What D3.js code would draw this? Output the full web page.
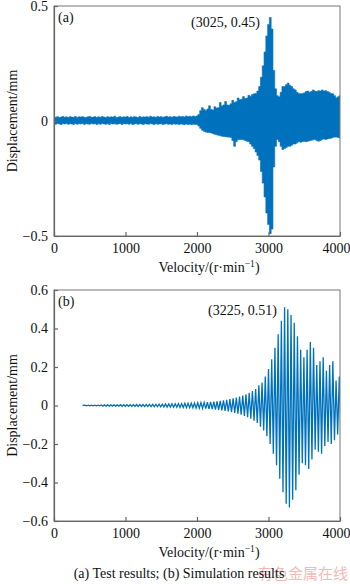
<!DOCTYPE html>
<html>
<head>
<meta charset="utf-8">
<script src="https://cdn.jsdelivr.net/npm/d3@7"></script>
<style>
  html, body { margin: 0; padding: 0; background: #fff; }
  svg { display: block; }
  text { font-family: "Liberation Serif", "Times New Roman", serif; fill: #111; }
</style>
</head>
<body>
<svg id="chart" width="350" height="584"></svg>
<script>
// ---- (a) Test results: measured displacement envelope, sampled every 25 r/min ----
const testStep = 25;
const testUpper = [
  0.018,0.016,0.019,0.015,0.017,0.02,0.016,0.018,0.015,0.019,
  0.017,0.016,0.02,0.015,0.018,0.017,0.019,0.016,0.015,0.018,
  0.02,0.016,0.017,0.019,0.015,0.018,0.016,0.02,0.017,0.015,
  0.019,0.016,0.018,0.017,0.021,0.015,0.017,0.019,0.016,0.018,
  0.017,0.02,0.015,0.018,0.016,0.019,0.017,0.015,0.02,0.016,
  0.018,0.017,0.019,0.016,0.021,0.017,0.018,0.016,0.02,0.017,
  0.019,0.016,0.018,0.021,0.017,0.019,0.016,0.02,0.018,0.017,
  0.021,0.018,0.02,0.017,0.022,0.019,0.021,0.018,0.022,0.02,
  0.022,0.028,0.045,0.058,0.05,0.046,0.052,0.066,0.05,0.048,
  0.062,0.056,0.058,0.08,0.065,0.07,0.085,0.07,0.068,0.075,
  0.09,0.08,0.084,0.1,0.092,0.095,0.106,0.098,0.1,0.112,
  0.108,0.115,0.118,0.12,0.13,0.15,0.19,0.24,0.3,0.37,
  0.42,0.45,0.4,0.22,0.14,0.11,0.105,0.125,0.15,0.15,
  0.158,0.165,0.155,0.15,0.14,0.135,0.125,0.12,0.118,0.12,
  0.122,0.128,0.13,0.125,0.128,0.135,0.13,0.128,0.132,0.13,
  0.135,0.13,0.132,0.128,0.125,0.12,0.118,0.11,0.1,0.105,
  0.11
];
const testLower = [
  -0.012,-0.014,-0.011,-0.013,-0.015,-0.012,-0.013,-0.011,-0.014,-0.012,
  -0.013,-0.015,-0.011,-0.014,-0.012,-0.013,-0.011,-0.015,-0.012,-0.013,
  -0.014,-0.011,-0.013,-0.012,-0.015,-0.012,-0.014,-0.011,-0.013,-0.014,
  -0.012,-0.015,-0.011,-0.013,-0.012,-0.014,-0.013,-0.011,-0.015,-0.012,
  -0.013,-0.012,-0.014,-0.011,-0.015,-0.013,-0.012,-0.014,-0.012,-0.013,
  -0.015,-0.012,-0.013,-0.014,-0.011,-0.013,-0.015,-0.012,-0.014,-0.013,
  -0.012,-0.015,-0.013,-0.012,-0.014,-0.013,-0.015,-0.012,-0.014,-0.013,
  -0.015,-0.013,-0.014,-0.016,-0.013,-0.015,-0.014,-0.016,-0.014,-0.015,
  -0.015,-0.022,-0.032,-0.04,-0.045,-0.048,-0.05,-0.05,-0.052,-0.055,
  -0.058,-0.06,-0.062,-0.064,-0.066,-0.067,-0.068,-0.07,-0.07,-0.072,
  -0.085,-0.11,-0.09,-0.082,-0.08,-0.08,-0.082,-0.085,-0.088,-0.09,
  -0.1,-0.11,-0.12,-0.135,-0.15,-0.17,-0.22,-0.27,-0.33,-0.4,
  -0.45,-0.49,-0.47,-0.2,-0.11,-0.08,-0.09,-0.11,-0.124,-0.12,
  -0.115,-0.11,-0.11,-0.105,-0.1,-0.1,-0.095,-0.09,-0.092,-0.09,
  -0.088,-0.09,-0.088,-0.086,-0.084,-0.082,-0.08,-0.085,-0.088,-0.085,
  -0.08,-0.078,-0.08,-0.078,-0.076,-0.075,-0.072,-0.07,-0.07,-0.072,
  -0.074
];

// ---- (b) Simulation results: peak / trough of each oscillation cycle ----
const simStart = 400;      // r/min where the simulated run begins
const simFirstPeak = 435;  // r/min of the first cycle peak
const simPeriod = 45;      // r/min per oscillation cycle
const simPeaks = [
  0.002,0.002,0.002,0.002,0.002,0.003,0.003,0.003,0.003,0.003,
  0.003,0.004,0.004,0.004,0.004,0.004,0.005,0.005,0.005,0.005,
  0.006,0.006,0.006,0.007,0.007,0.008,0.008,0.009,0.009,0.01,
  0.01,0.011,0.011,0.012,0.013,0.014,0.015,0.016,0.017,0.019,
  0.02,0.022,0.024,0.027,0.03,0.033,0.037,0.041,0.046,0.052,
  0.058,0.066,0.075,0.086,0.105,0.12,0.15,0.19,0.24,0.3,
  0.37,0.44,0.51,0.5,0.47,0.43,0.36,0.29,0.25,0.29,
  0.33,0.3,0.21,0.23,0.25,0.18,0.21,0.23,0.13,0.15
];
const simTroughs = [
  -0.002,-0.002,-0.002,-0.002,-0.002,-0.003,-0.003,-0.003,-0.003,-0.003,
  -0.003,-0.004,-0.004,-0.004,-0.004,-0.004,-0.005,-0.005,-0.005,-0.005,
  -0.006,-0.006,-0.006,-0.007,-0.007,-0.008,-0.008,-0.009,-0.009,-0.01,
  -0.01,-0.011,-0.011,-0.012,-0.013,-0.014,-0.015,-0.016,-0.018,-0.019,
  -0.021,-0.023,-0.025,-0.028,-0.031,-0.034,-0.038,-0.043,-0.048,-0.054,
  -0.061,-0.069,-0.079,-0.091,-0.11,-0.13,-0.16,-0.2,-0.25,-0.31,
  -0.38,-0.45,-0.51,-0.53,-0.49,-0.44,-0.36,-0.3,-0.31,-0.33,
  -0.28,-0.23,-0.24,-0.25,-0.21,-0.19,-0.2,-0.18,-0.15,-0.16
];

// ---- axis ticks and texts ----
const velocityTicks = [0, 1000, 2000, 3000, 4000];
const testTicks = [-0.5, 0, 0.5];
const simTicks = [-0.6, -0.4, -0.2, 0, 0.2, 0.4, 0.6];
const testPeak = { rpm: 3025, value: 0.45 };
const simPeak = { rpm: 3225, value: 0.51 };
const yTitle = "Displacement/mm";
const caption = "(a) Test results; (b) Simulation results";

const blue = "#0072bd";
const axisGray = "#666";
const svg = d3.select("#chart");

const fmtY = v => v === 0 ? "0" : d3.format(".1f")(v);
const fmtX = d3.format("d");

function panel(cfg) {
  const x = d3.scaleLinear().domain([0, 4000]).range([cfg.left, cfg.right]);
  const y = d3.scaleLinear().domain(cfg.yDomain).range([cfg.bottom, cfg.top]);
  const g = svg.append("g");

  const clipId = "clip-" + cfg.name;
  svg.append("clipPath").attr("id", clipId)
    .append("rect")
    .attr("x", cfg.left).attr("y", cfg.top)
    .attr("width", cfg.right - cfg.left).attr("height", cfg.bottom - cfg.top);

  const plot = g.append("g").attr("clip-path", `url(#${clipId})`);
  cfg.draw(plot, x, y);

  // frame
  g.append("rect")
    .attr("x", cfg.left).attr("y", cfg.top)
    .attr("width", cfg.right - cfg.left).attr("height", cfg.bottom - cfg.top)
    .attr("fill", "none").attr("stroke", "#777").attr("stroke-width", 1);

  const ax = g.append("g").attr("transform", `translate(0,${cfg.bottom})`)
    .call(d3.axisBottom(x).tickValues(velocityTicks).tickFormat(fmtX)
      .tickSizeInner(-4).tickSizeOuter(0).tickPadding(7));
  const ay = g.append("g").attr("transform", `translate(${cfg.left},0)`)
    .call(d3.axisLeft(y).tickValues(cfg.yTicks).tickFormat(fmtY)
      .tickSizeInner(-4).tickSizeOuter(0).tickPadding(6));
  [ax, ay].forEach(a => {
    a.attr("font-family", null);
    a.select(".domain").attr("stroke", axisGray).attr("stroke-width", 1.2);
    a.selectAll(".tick line").attr("stroke", axisGray).attr("stroke-width", 1.2);
    a.selectAll(".tick text").attr("font-size", 14).attr("fill", "#111");
  });
  // keep the last velocity label inside the page edge
  ax.selectAll(".tick text").filter(d => d === 4000)
    .attr("text-anchor", "end").attr("x", 10);

  // x title with superscript
  const xt = g.append("text")
    .attr("x", 209).attr("y", cfg.bottom + 36)
    .attr("text-anchor", "middle").attr("font-size", 14);
  xt.append("tspan").text("Velocity/(r·min");
  xt.append("tspan").attr("dy", -5).attr("font-size", 9.5).text("−1");
  xt.append("tspan").attr("dy", 5).text(")");

  // y title
  g.append("text")
    .attr("transform", `translate(17,${(cfg.top + cfg.bottom) / 2}) rotate(-90)`)
    .attr("text-anchor", "middle").attr("font-size", 14)
    .text(yTitle);

  // panel label
  g.append("text").attr("x", cfg.left + 4).attr("y", cfg.top + 16)
    .attr("font-size", 14).text(cfg.label);

  // peak annotation
  g.append("text").attr("x", cfg.noteX).attr("y", cfg.noteY)
    .attr("font-size", 14).text(`(${cfg.peak.rpm}, ${cfg.peak.value})`);
}

// (a) measured band
panel({
  name: "a", label: "(a)",
  left: 54, right: 340, top: 6, bottom: 236,
  yDomain: [-0.5, 0.5], yTicks: testTicks,
  peak: testPeak, noteX: 191, noteY: 27,
  draw: (plot, x, y) => {
    const rows = testUpper.map((u, i) => ({ rpm: i * testStep, hi: u, lo: testLower[i] }));
    plot.append("path")
      .datum(rows)
      .attr("fill", blue)
      .attr("stroke", blue).attr("stroke-width", 0.6)
      .attr("d", d3.area()
        .curve(d3.curveStep)
        .x(d => x(d.rpm))
        .y0(d => y(d.lo))
        .y1(d => y(d.hi)));
  }
});

// (b) simulated oscillation
panel({
  name: "b", label: "(b)",
  left: 54, right: 340, top: 290, bottom: 521,
  yDomain: [-0.6, 0.6], yTicks: simTicks,
  peak: simPeak, noteX: 208, noteY: 315,
  draw: (plot, x, y) => {
    const pts = [{ rpm: simStart, v: 0 }];
    simPeaks.forEach((p, k) => {
      const r = simFirstPeak + k * simPeriod;
      pts.push({ rpm: r, v: p });
      pts.push({ rpm: r + simPeriod / 2, v: simTroughs[k] });
    });
    plot.append("path")
      .datum(pts)
      .attr("fill", "none")
      .attr("stroke", blue).attr("stroke-width", 1.3)
      .attr("stroke-linejoin", "miter")
      .attr("d", d3.line().x(d => x(d.rpm)).y(d => y(d.v)));
  }
});

// watermark then caption
svg.append("text")
  .attr("x", 258).attr("y", 579)
  .attr("font-size", 15)
  .style("font-family", "'Noto Sans CJK SC'")
  .style("fill", "#f3b9b9")
  .text("有色金属在线");

svg.append("text")
  .attr("x", 179).attr("y", 578)
  .attr("text-anchor", "middle").attr("font-size", 14)
  .text(caption);
</script>
</body>
</html>
